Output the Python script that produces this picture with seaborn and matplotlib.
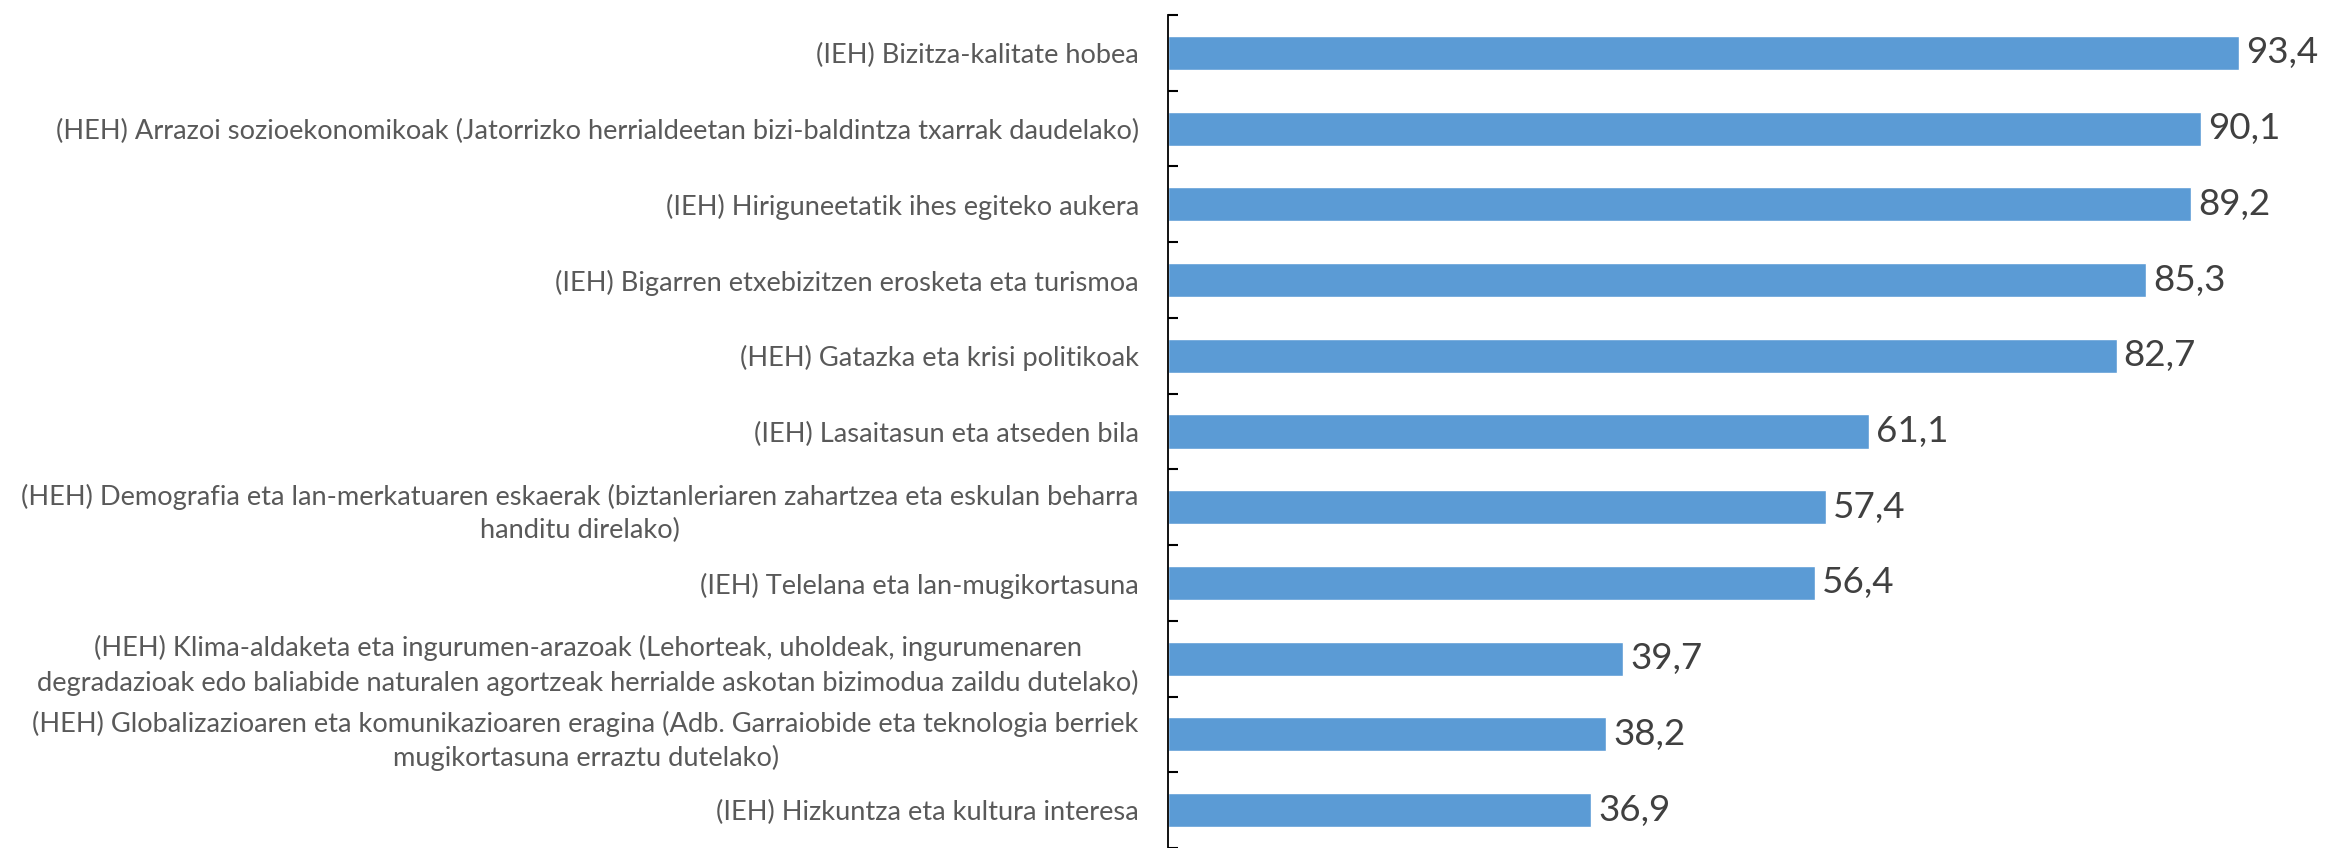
import matplotlib
matplotlib.use("Agg")
import matplotlib.pyplot as plt
import numpy as np
import pandas as pd
import seaborn as sns

# Categories (top to bottom) and values
labels = [
    "(IEH) Bizitza-kalitate hobea",
    "(HEH) Arrazoi sozioekonomikoak (Jatorrizko herrialdeetan bizi-baldintza txarrak daudelako)",
    "(IEH) Hiriguneetatik ihes egiteko aukera",
    "(IEH) Bigarren etxebizitzen erosketa eta turismoa",
    "(HEH) Gatazka eta krisi politikoak",
    "(IEH) Lasaitasun eta atseden bila",
    "(HEH) Demografia eta lan-merkatuaren eskaerak (biztanleriaren zahartzea eta eskulan beharra\nhanditu direlako)",
    "(IEH) Telelana eta lan-mugikortasuna",
    "(HEH) Klima-aldaketa eta ingurumen-arazoak (Lehorteak, uholdeak, ingurumenaren\ndegradazioak edo baliabide naturalen agortzeak herrialde askotan bizimodua zaildu dutelako)",
    "(HEH) Globalizazioaren eta komunikazioaren eragina (Adb. Garraiobide eta teknologia berriek\nmugikortasuna erraztu dutelako)",
    "(IEH) Hizkuntza eta kultura interesa",
]
values = [93.4, 90.1, 89.2, 85.3, 82.7, 61.1, 57.4, 56.4, 39.7, 38.2, 36.9]

df = pd.DataFrame({"label": labels, "value": values})

sns.set_style("white")
plt.rcParams["font.family"] = ["Lato", "DejaVu Sans"]

fig = plt.figure(figsize=(23.28, 8.48), dpi=100)
ax = fig.add_axes([0.5017, 0.0, 0.4927, 833 / 848])

sns.barplot(data=df, x="value", y="label", orient="h", color="#5B9BD5",
            saturation=1, width=0.45, ax=ax)

ax.set_xlim(0, 100)
ax.set_ylim(10.46, -0.5)
ax.set_xlabel("")
ax.set_ylabel("")
ax.set_xticks([])

for s in ["top", "right", "bottom"]:
    ax.spines[s].set_visible(False)
ax.spines["left"].set_color("#000000")
ax.spines["left"].set_linewidth(1.3)

# category labels, centred multiline, right aligned to the axis
ax.set_yticks(range(len(labels)))
ax.set_yticklabels(labels, fontsize=19.6, color="#595959", multialignment="center",
                   linespacing=1.4)
ax.tick_params(axis="y", which="major", left=True, length=0, pad=21)
ax.set_yticks(np.arange(-0.5, len(labels), 1), minor=True)
ax.tick_params(axis="y", which="minor", left=True, length=7, width=1.5,
               direction="in", color="#000000")

# value labels
for i, v in enumerate(values):
    ax.text(v + 0.6, i, f"{v:.1f}".replace(".", ","), va="center", ha="left",
            fontsize=26.5, color="#404040")

fig.savefig("out.png", dpi=100)
